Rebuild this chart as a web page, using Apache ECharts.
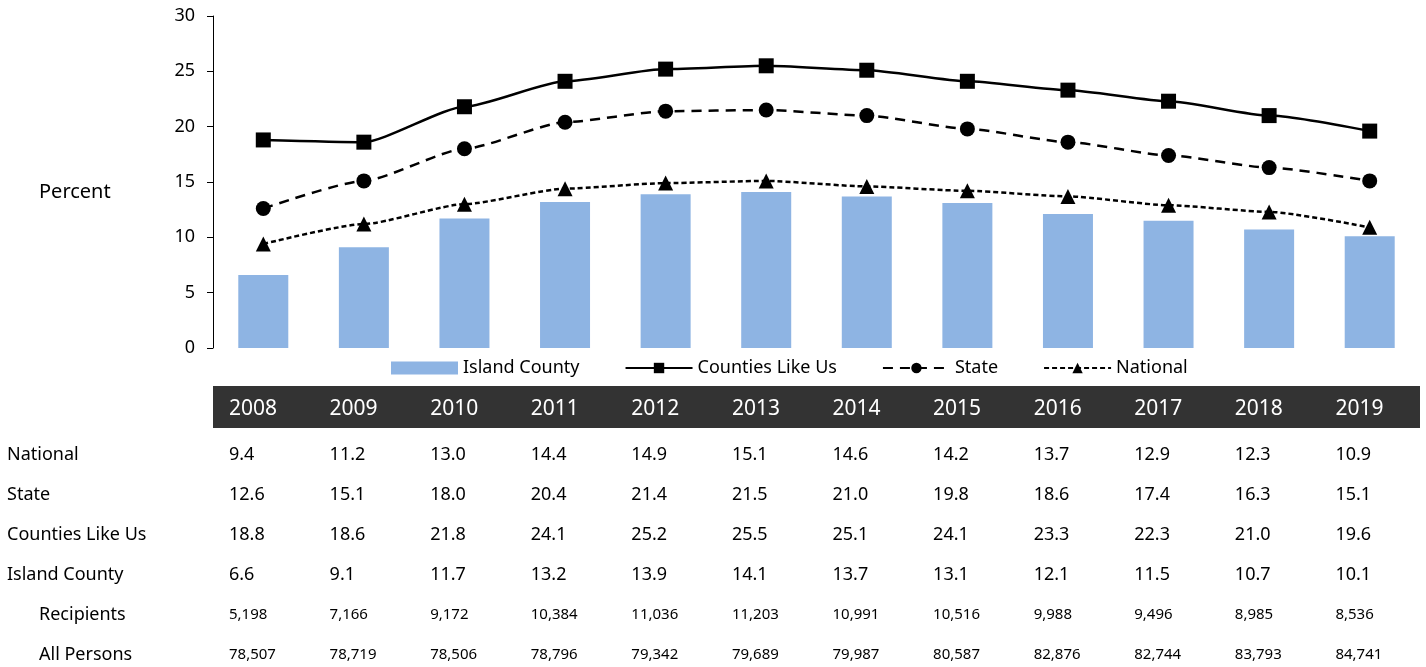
<!DOCTYPE html>
<html>
<head>
<meta charset="utf-8">
<script src="https://cdn.jsdelivr.net/npm/echarts@6/dist/echarts.min.js"></script>
<style>
html,body{margin:0;padding:0;background:#fff;}
#c{width:1426px;height:667px;}
</style>
</head>
<body>
<div id="c"></div>
<script>
var years = ['2008','2009','2010','2011','2012','2013','2014','2015','2016','2017','2018','2019'];
var national = [9.4, 11.2, 13.0, 14.4, 14.9, 15.1, 14.6, 14.2, 13.7, 12.9, 12.3, 10.9];
var state = [12.6, 15.1, 18.0, 20.4, 21.4, 21.5, 21.0, 19.8, 18.6, 17.4, 16.3, 15.1];
var countiesLikeUs = [18.8, 18.6, 21.8, 24.1, 25.2, 25.5, 25.1, 24.1, 23.3, 22.3, 21.0, 19.6];
var islandCounty = [6.6, 9.1, 11.7, 13.2, 13.9, 14.1, 13.7, 13.1, 12.1, 11.5, 10.7, 10.1];
var recipients = [5198, 7166, 9172, 10384, 11036, 11203, 10991, 10516, 9988, 9496, 8985, 8536];
var allPersons = [78507, 78719, 78506, 78796, 79342, 79689, 79987, 80587, 82876, 82744, 83793, 84741];
var yTicks = [0, 5, 10, 15, 20, 25, 30];

var FONT = 'Noto Sans';
var chart = echarts.init(document.getElementById('c'));
var option = {
  animation: false,
  textStyle: {fontFamily: FONT},
  grid: {left: 213, right: 6, top: 16, bottom: 319},
  legend: {
    left: 386, top: 354,
    itemWidth: 67, itemHeight: 13, itemGap: 45,
    textStyle: {fontFamily: FONT, fontSize: 18, color: '#000'},
    data: [{name: 'Island County', icon: 'rect'}, 'Counties Like Us', 'State', 'National']
  },
  xAxis: {
    type: 'category', data: years,
    axisLine: {show: false}, axisTick: {show: false}, axisLabel: {show: false}
  },
  yAxis: {
    type: 'value', min: yTicks[0], max: yTicks[yTicks.length - 1], interval: 5,
    axisLine: {show: true, lineStyle: {color: '#000', width: 1}},
    axisTick: {show: true, length: 6, lineStyle: {color: '#000'}},
    splitLine: {show: false},
    axisLabel: {fontFamily: FONT, fontSize: 18, color: '#000', margin: 18}
  },
  series: [
    {name: 'Island County', type: 'bar', data: islandCounty, barWidth: 50,
     itemStyle: {color: '#8EB4E3'}, z: 1},
    {name: 'Counties Like Us', type: 'line', data: countiesLikeUs, smooth: 0.2, smoothMonotone: 'x',
     symbol: 'rect', symbolSize: 15,
     lineStyle: {color: '#000', width: 2.5, type: 'solid'},
     itemStyle: {color: '#000'}, z: 5},
    {name: 'State', type: 'line', data: state, smooth: 0.2, smoothMonotone: 'x',
     symbol: 'circle', symbolSize: 15,
     lineStyle: {color: '#000', width: 2.5, type: [10, 7]},
     itemStyle: {color: '#000'}, z: 5},
    {name: 'National', type: 'line', data: national, smooth: 0.2, smoothMonotone: 'x',
     symbol: 'triangle', symbolSize: 15,
     lineStyle: {color: '#000', width: 2.5, type: [5, 3]},
     itemStyle: {color: '#000'}, z: 5}
  ]
};
chart.setOption(option);

function fmt1(v){ return v.toFixed(1); }
function fmtN(v){ return v.toLocaleString('en-US'); }

var c0 = chart.convertToPixel({xAxisIndex: 0}, 0);
var c1 = chart.convertToPixel({xAxisIndex: 0}, 1);
var band = c1 - c0;
var tableLeft = c0 - band / 2;
var tableRight = chart.convertToPixel({xAxisIndex: 0}, years.length - 1) + band / 2;

var g = [];
g.push({type: 'text', x: 39, y: 192, style: {text: 'Percent', font: '20px "Noto Sans"', fill: '#000', textVerticalAlign: 'middle'}});
g.push({type: 'rect', shape: {x: tableLeft, y: 386, width: tableRight - tableLeft, height: 42}, style: {fill: '#333333'}});

var rows = [
  {label: 'National', vals: national, f: fmt1, indent: 7, size: 18},
  {label: 'State', vals: state, f: fmt1, indent: 7, size: 18},
  {label: 'Counties Like Us', vals: countiesLikeUs, f: fmt1, indent: 7, size: 18},
  {label: 'Island County', vals: islandCounty, f: fmt1, indent: 7, size: 18},
  {label: 'Recipients', vals: recipients, f: fmtN, indent: 39, size: 15},
  {label: 'All Persons', vals: allPersons, f: fmtN, indent: 39, size: 15}
];
years.forEach(function(y, i){
  var cx = chart.convertToPixel({xAxisIndex: 0}, i);
  g.push({type: 'text', x: cx - band / 2 + 16, y: 409,
    style: {text: y, font: '21px "Noto Sans"', fill: '#fff', textVerticalAlign: 'middle', textAlign: 'left'}});
});
rows.forEach(function(r, ri){
  var yy = 455 + ri * 40;
  g.push({type: 'text', x: r.indent, y: yy,
    style: {text: r.label, font: '18px "Noto Sans"', fill: '#000', textVerticalAlign: 'middle', textAlign: 'left'}});
  r.vals.forEach(function(v, i){
    var cx = chart.convertToPixel({xAxisIndex: 0}, i);
    g.push({type: 'text', x: cx - band / 2 + 16, y: yy,
      style: {text: r.f(v), font: r.size + 'px "Noto Sans"', fill: '#000', textVerticalAlign: 'middle', textAlign: 'left'}});
  });
});
chart.setOption({graphic: g});
</script>
</body>
</html>
